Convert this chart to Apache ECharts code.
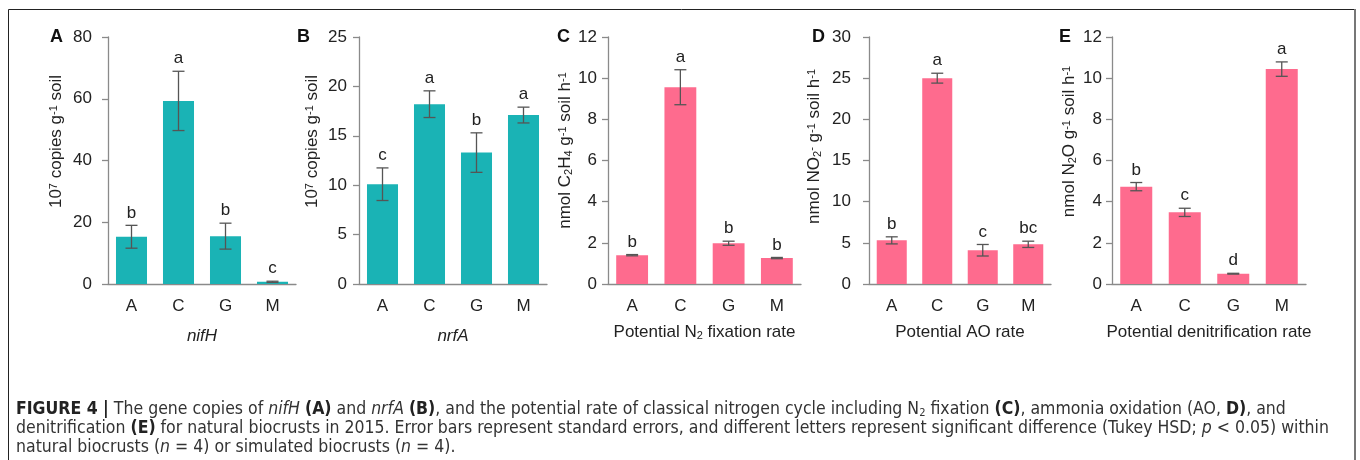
<!DOCTYPE html>
<html>
<head>
<meta charset="utf-8">
<script src="https://cdn.jsdelivr.net/npm/echarts@6/dist/echarts.min.js"></script>
<style>
  html, body { margin: 0; padding: 0; background: #fff; }
  #chart { width: 1360px; height: 460px; }
</style>
</head>
<body>
<div id="chart"></div>
<script>
// ---- data ----
const sites = ['A', 'C', 'G', 'M'];

const nifhMean = [15.3, 59.3, 15.5, 0.7];
const nifhSE = [3.7, 9.6, 4.2, 0.2];
const nifhLetters = ['b', 'a', 'b', 'c'];

const nrfaMean = [10.1, 18.2, 13.3, 17.1];
const nrfaSE = [1.65, 1.35, 2.0, 0.8];
const nrfaLetters = ['c', 'a', 'b', 'a'];

const fixMean = [1.4, 9.56, 1.98, 1.26];
const fixSE = [0.03, 0.85, 0.1, 0.03];
const fixLetters = ['b', 'a', 'b', 'b'];

const aoMean = [5.3, 25.0, 4.1, 4.82];
const aoSE = [0.43, 0.6, 0.7, 0.38];
const aoLetters = ['b', 'a', 'c', 'bc'];

const denitMean = [4.73, 3.48, 0.5, 10.44];
const denitSE = [0.2, 0.2, 0.02, 0.35];
const denitLetters = ['b', 'c', 'd', 'a'];

const TEAL = '#1ab3b5';
const PINK = '#fe6b8e';
const FONT = '"Liberation Sans", Arial, sans-serif';
const FS = 17;

// ---- panel layout ----
let panels = [
  { tag: 'A', mean: nifhMean, se: nifhSE, letters: nifhLetters, color: TEAL, max: 80, step: 20,
    left: 108, width: 188, tagX: 50, labelMargin: 16, nameGap: 43, namePad: 38,
    yname: '10{sup|7} copies g{sup|-1} soil', xname: '{i|nifH}', xGap: 44 },
  { tag: 'B', mean: nrfaMean, se: nrfaSE, letters: nrfaLetters, color: TEAL, max: 25, step: 5,
    left: 359, width: 188, tagX: 297, labelMargin: 12, nameGap: 38, namePad: 38,
    yname: '10{sup|7} copies g{sup|-1} soil', xname: '{i|nrfA}', xGap: 44 },
  { tag: 'C', mean: fixMean, se: fixSE, letters: fixLetters, color: PINK, max: 12, step: 2,
    left: 608, width: 193, tagX: 557, labelMargin: 11, nameGap: 27, namePad: 20,
    yname: 'nmol C{sub|2}H{sub|4} g{sup|-1} soil h{sup|-1}', xname: 'Potential N{sub|2} fixation rate', xGap: 40 },
  { tag: 'D', mean: aoMean, se: aoSE, letters: aoLetters, color: PINK, max: 30, step: 5,
    left: 869, width: 182, tagX: 812, labelMargin: 18, nameGap: 46, namePad: 28,
    yname: 'nmol NO{sub|2}{sup|-} g{sup|-1} soil h{sup|-1}', xname: 'Potential AO rate', xGap: 40 },
  { tag: 'E', mean: denitMean, se: denitSE, letters: denitLetters, color: PINK, max: 12, step: 2,
    left: 1112, width: 194, tagX: 1059, labelMargin: 10, nameGap: 34, namePad: 38,
    yname: 'nmol N{sub|2}O g{sup|-1} soil h{sup|-1}', xname: 'Potential denitrification rate', xGap: 40 }
];

const richScripts = {
  sup: { fontSize: 11, verticalAlign: 'top', fontFamily: FONT, color: '#222' },
  sub: { fontSize: 11, verticalAlign: 'bottom', fontFamily: FONT, color: '#222' },
  i: { fontSize: FS, fontStyle: 'italic', fontFamily: FONT, color: '#222' }
};

function errorBarRenderer(letters) {
  return function (params, api) {
    let i = api.value(0);
    let top = api.coord([i, api.value(2)]);
    let bot = api.coord([i, api.value(1)]);
    let hw = 6;
    let st = { stroke: '#555', lineWidth: 1.3 };
    return {
      type: 'group',
      children: [
        { type: 'line', shape: { x1: top[0], y1: top[1], x2: bot[0], y2: bot[1] }, style: st },
        { type: 'line', shape: { x1: top[0] - hw, y1: top[1], x2: top[0] + hw, y2: top[1] }, style: st },
        { type: 'line', shape: { x1: bot[0] - hw, y1: bot[1], x2: bot[0] + hw, y2: bot[1] }, style: st },
        { type: 'text', style: { text: letters[i], x: top[0], y: top[1] - 4, align: 'center', verticalAlign: 'bottom',
            font: FS + 'px ' + FONT, fill: '#222' } }
      ]
    };
  };
}

let grid = [], xAxis = [], yAxis = [], series = [], title = [];

panels.forEach(function (p, k) {
  grid.push({ left: p.left, width: p.width, top: 37, height: 247 });
  title.push({ text: p.tag, left: p.tagX, top: 28, padding: 0,
    textStyle: { fontSize: 18, fontWeight: 'bold', fontFamily: FONT, color: '#111' } });
  xAxis.push({
    type: 'category', gridIndex: k, data: sites,
    name: p.xname, nameLocation: 'middle', nameGap: p.xGap,
    nameTextStyle: { fontSize: FS, fontFamily: FONT, color: '#222', rich: richScripts },
    axisLine: { lineStyle: { color: '#8a8a8a', width: 1.3 } },
    axisTick: { length: 5, lineStyle: { color: '#8a8a8a', width: 1.3 } },
    axisLabel: { fontSize: FS, fontFamily: FONT, color: '#222', margin: 14 }
  });
  yAxis.push({
    type: 'value', gridIndex: k, min: 0, max: p.max, interval: p.step,
    name: p.yname, nameLocation: 'middle', nameRotate: 90, nameGap: p.nameGap,
    nameTextStyle: { fontSize: FS, fontFamily: FONT, color: '#222', rich: richScripts, padding: [0, 0, 0, p.namePad] },
    splitLine: { show: false },
    axisLine: { show: true, lineStyle: { color: '#8a8a8a', width: 1.3 } },
    axisTick: { show: true, length: 6, lineStyle: { color: '#8a8a8a', width: 1.3 } },
    axisLabel: { fontSize: FS, fontFamily: FONT, color: '#222', margin: p.labelMargin }
  });
  series.push({
    type: 'bar', xAxisIndex: k, yAxisIndex: k, data: p.mean,
    barCategoryGap: '34%', itemStyle: { color: p.color }, silent: true
  });
  series.push({
    type: 'custom', xAxisIndex: k, yAxisIndex: k, z: 5,
    renderItem: errorBarRenderer(p.letters),
    data: p.mean.map(function (m, i) { return [i, m - p.se[i], m + p.se[i]]; })
  });
});

const captionText = [
  '{b|FIGURE 4 |} The gene copies of {i|nifH} {b|(A)} and {i|nrfA} {b|(B)}, and the potential rate of classical nitrogen cycle including N{s|2} fixation {b|(C)}, ammonia oxidation (AO, {b|D)}, and',
  'denitrification {b|(E)} for natural biocrusts in 2015. Error bars represent standard errors, and different letters represent significant difference (Tukey HSD; {i|p} < 0.05) within',
  'natural biocrusts ({i|n} = 4) or simulated biocrusts ({i|n} = 4).'
].join('\n');

const CAP_FONT = '"Liberation Sans Narrow", "DejaVu Sans Condensed", sans-serif';
const CAP_FS = 17.5;

let chart = echarts.init(document.getElementById('chart'), null, { renderer: 'canvas' });
chart.setOption({
  animation: false,
  backgroundColor: '#fff',
  title: title,
  grid: grid,
  xAxis: xAxis,
  yAxis: yAxis,
  series: series,
  graphic: [
    { type: 'rect', shape: { x: 8.5, y: 9.5, width: 1346, height: 480 },
      style: { fill: 'none', stroke: '#222', lineWidth: 1 }, silent: true },
    { type: 'line', shape: { x1: 1355, y1: 9, x2: 1355, y2: 460 },
      style: { stroke: '#777', lineWidth: 2 }, silent: true },
    { type: 'text', left: 16, top: 400, silent: true,
      style: {
        text: captionText,
        font: CAP_FS + 'px ' + CAP_FONT, fill: '#333', lineHeight: 19,
        rich: {
          b: { fontWeight: 'bold', fontSize: CAP_FS, fontFamily: CAP_FONT, fill: '#222', lineHeight: 19 },
          i: { fontStyle: 'italic', fontSize: CAP_FS, fontFamily: CAP_FONT, fill: '#333', lineHeight: 19 },
          s: { fontSize: 11, fontFamily: CAP_FONT, fill: '#333', verticalAlign: 'bottom', lineHeight: 19 }
        }
      } }
  ]
});
</script>
</body>
</html>
